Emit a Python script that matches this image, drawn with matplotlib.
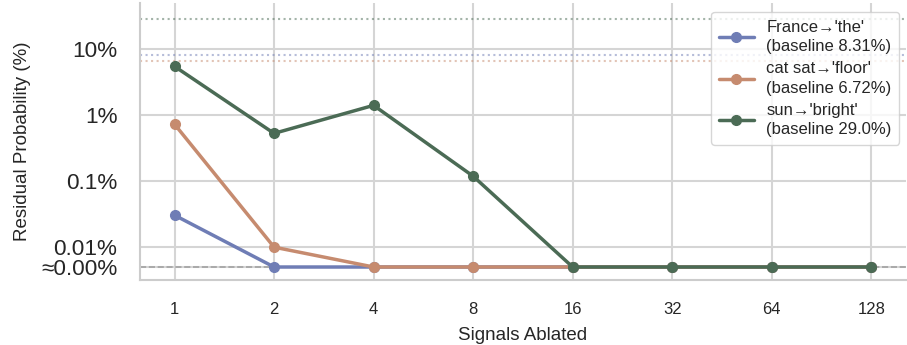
import matplotlib
matplotlib.use("Agg")
import matplotlib.pyplot as plt
import seaborn as sns
import numpy as np

sns.set_theme(style="whitegrid")
plt.rcParams['font.family'] = ['Liberation Sans', 'DejaVu Sans']
plt.rcParams['grid.linewidth'] = 1.5
plt.rcParams['grid.color'] = '#d5d5d5'

signals = [1, 2, 4, 8, 16, 32, 64, 128]
floor_val = 0.005  # percent, displayed as ≈0.00%
france = [0.0305, floor_val, floor_val, floor_val, floor_val, floor_val, floor_val, floor_val]
catsat = [0.73, 0.01, floor_val, floor_val, floor_val, floor_val, floor_val, floor_val]
sun = [5.5, 0.53, 1.41, 0.119, floor_val, floor_val, floor_val, floor_val]
baselines = [8.31, 6.72, 29.0]
names = ["France\u2192'the'", "cat sat\u2192'floor'", "sun\u2192'bright'"]
colors = ['#6f7db5', '#c68b6f', '#4b6b55']
ytick_vals = [floor_val, 0.01, 0.1, 1, 10]
ytick_labels = ['\u22480.00%', '0.01%', '0.1%', '1%', '10%']

fig = plt.figure(figsize=(9.07, 3.45), dpi=100)
ax = fig.add_axes([0.154, 0.188, 0.845, 0.803])

ax.axhline(floor_val, color='gray', linestyle='--', linewidth=1.2, alpha=0.6, zorder=1)
for series, base, name, c in zip([france, catsat, sun], baselines, names, colors):
    ax.axhline(base, color=c, linestyle=':', linewidth=1.5, alpha=0.5, zorder=1)
    ax.plot(signals, series, marker='o', markersize=7, linewidth=2.5, color=c,
            label=f"{name}\n(baseline {base}%)", zorder=3)

ax.set_xscale('log', base=2)
ax.set_yscale('log')
ax.set_xlim(2 ** -0.35, 2 ** 7.35)
ax.set_ylim(10 ** -2.5, 50)
ax.set_xticks(signals)
ax.set_xticklabels([str(s) for s in signals], fontsize=12)
ax.xaxis.set_minor_locator(matplotlib.ticker.NullLocator())
ax.set_yticks(ytick_vals)
ax.set_yticklabels(ytick_labels, fontsize=16.2)
ax.yaxis.set_minor_locator(matplotlib.ticker.NullLocator())
ax.tick_params(axis='x', pad=10, colors='#262626')
ax.tick_params(axis='y', pad=10, colors='#262626')
ax.set_xlabel('Signals Ablated', fontsize=13.5, labelpad=7)
ax.set_ylabel('Residual Probability (%)', fontsize=13.5, labelpad=7)
sns.despine(ax=ax, top=True, right=True)
for s in ['left', 'bottom']:
    ax.spines[s].set_color('#cccccc')
    ax.spines[s].set_linewidth(1.5)

leg = ax.legend(loc='upper right', fontsize=12, frameon=True, framealpha=0.8,
                handlelength=2.1, borderaxespad=0.0, labelspacing=0.45,
                handletextpad=0.75, borderpad=0.45,
                bbox_to_anchor=(0.991, 0.9675))
leg.get_frame().set_edgecolor('#cccccc')
for t in leg.get_texts():
    t.set_linespacing(1.35)

fig.savefig('out.png', dpi=100)
